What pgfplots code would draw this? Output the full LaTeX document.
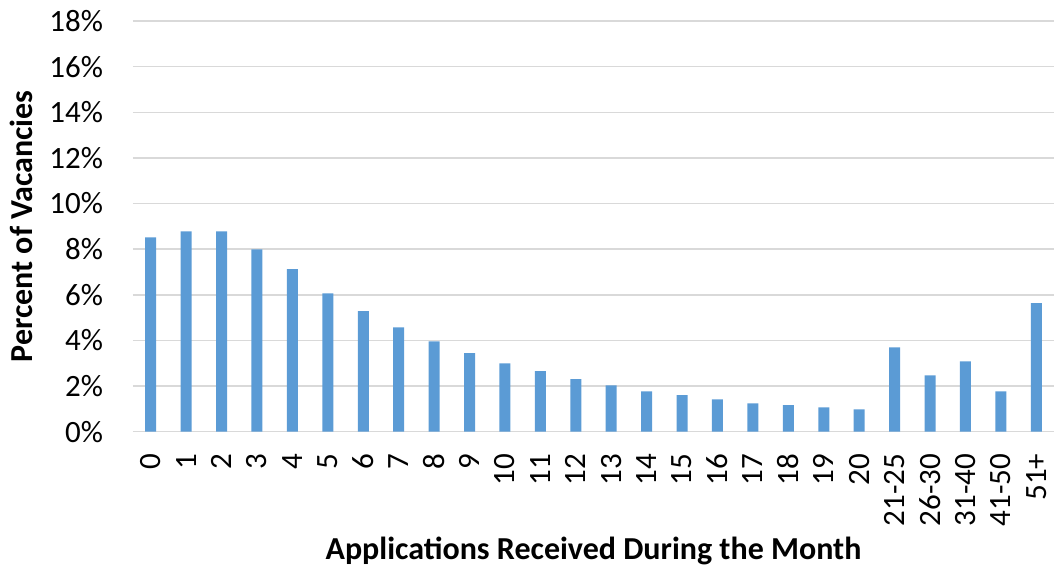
\documentclass[border=0pt]{standalone}
\usepackage{pgfplots}
\pgfplotsset{compat=1.18}
\usepackage{fontspec}
\setmainfont{Carlito}
\definecolor{barblue}{HTML}{5B9BD5}
\definecolor{gridgray}{HTML}{D9D9D9}
\begin{document}
\begin{tikzpicture}
\begin{axis}[
  at={(0,0)}, anchor=south west,
  scale only axis,
  width=921bp, height=410.7bp,
  xmin=-0.5, xmax=25.5,
  ymin=0, ymax=18,
  axis line style={draw=none},
  major tick length=0pt,
  ymajorgrids,
  grid style={gridgray, line width=1.5bp},
  ytick={0,2,4,6,8,10,12,14,16,18},
  yticklabels={0\%,2\%,4\%,6\%,8\%,10\%,12\%,14\%,16\%,18\%},
  xtick={0,...,25},
  xticklabels={0,1,2,3,4,5,6,7,8,9,10,11,12,13,14,15,16,17,18,19,20,21-25,26-30,31-40,41-50,51+},
  tick label style={font=\fontsize{31bp}{37bp}\selectfont, inner sep=0pt, outer sep=0pt},
  yticklabel style={anchor=east},
  yticklabel shift=30bp,
  xticklabel style={rotate=90, anchor=east},
  xticklabel shift=22bp,
  xlabel={Applications Received During the Month},
  ylabel={Percent of Vacancies},
  label style={font=\bfseries\fontsize{32bp}{38bp}\selectfont, inner sep=0pt},
  xlabel style={at={(axis description cs:0.5,0)}, anchor=base, yshift=-128bp},
  ylabel style={at={(axis description cs:-0.1086,0.5)}, anchor=base, rotate=0},
  clip=false,
]
\addplot[ybar, bar width=11bp, fill=barblue, draw=none] coordinates {
(0,8.52) (1,8.78) (2,8.78) (3,7.99) (4,7.12) (5,6.06) (6,5.28) (7,4.57)
(8,3.96) (9,3.44) (10,3.00) (11,2.65) (12,2.30) (13,2.03) (14,1.77)
(15,1.60) (16,1.42) (17,1.24) (18,1.16) (19,1.07) (20,0.98)
(21,3.70) (22,2.47) (23,3.08) (24,1.77) (25,5.63)
};
\end{axis}
\pgfresetboundingbox
\path[use as bounding box] (-133bp,-141.3bp) rectangle (921bp,431.7bp);
\end{tikzpicture}
\end{document}
